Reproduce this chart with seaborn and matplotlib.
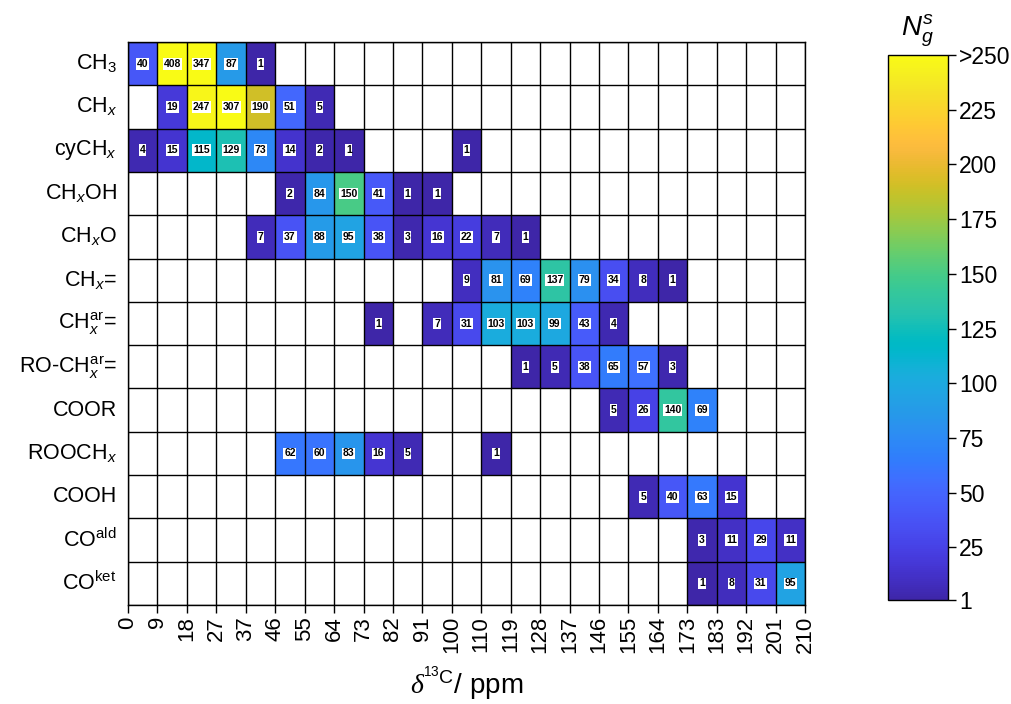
import numpy as np
import pandas as pd
import matplotlib
matplotlib.use("Agg")
import matplotlib.pyplot as plt
from matplotlib.colors import LinearSegmentedColormap
import seaborn as sns

# Group labels (rows) and chemical-shift bin edges (columns)
groups = ["CH$_3$", "CH$_x$", "cyCH$_x$", "CH$_x$OH", "CH$_x$O", "CH$_x$=",
          "CH$_x^{\\mathrm{ar}}$=", "RO-CH$_x^{\\mathrm{ar}}$=", "COOR",
          "ROOCH$_x$", "COOH", "CO$^{\\mathrm{ald}}$", "CO$^{\\mathrm{ket}}$"]
edges = ["0", "9", "18", "27", "37", "46", "55", "64", "73", "82", "91", "100",
         "110", "119", "128", "137", "146", "155", "164", "173", "183", "192",
         "201", "210"]
n_bins = len(edges) - 1

# Non-empty bins per group: {bin index: count}
counts_CH3 = {0: 40, 1: 408, 2: 347, 3: 87, 4: 1}
counts_CHx = {1: 19, 2: 247, 3: 307, 4: 190, 5: 51, 6: 5}
counts_cyCHx = {0: 4, 1: 15, 2: 115, 3: 129, 4: 73, 5: 14, 6: 2, 7: 1, 11: 1}
counts_CHxOH = {5: 2, 6: 84, 7: 150, 8: 41, 9: 1, 10: 1}
counts_CHxO = {4: 7, 5: 37, 6: 88, 7: 95, 8: 38, 9: 3, 10: 16, 11: 22, 12: 7, 13: 1}
counts_CHx_db = {11: 9, 12: 81, 13: 69, 14: 137, 15: 79, 16: 34, 17: 8, 18: 1}
counts_CHar = {8: 1, 10: 7, 11: 31, 12: 103, 13: 103, 14: 99, 15: 43, 16: 4}
counts_ROCHar = {13: 1, 14: 5, 15: 38, 16: 65, 17: 57, 18: 3}
counts_COOR = {16: 5, 17: 26, 18: 140, 19: 69}
counts_ROOCHx = {5: 62, 6: 60, 7: 83, 8: 16, 9: 5, 12: 1}
counts_COOH = {17: 5, 18: 40, 19: 63, 20: 15}
counts_COald = {19: 3, 20: 11, 21: 29, 22: 11}
counts_COket = {19: 1, 20: 8, 21: 31, 22: 95}

all_counts = [counts_CH3, counts_CHx, counts_cyCHx, counts_CHxOH, counts_CHxO,
              counts_CHx_db, counts_CHar, counts_ROCHar, counts_COOR,
              counts_ROOCHx, counts_COOH, counts_COald, counts_COket]

mat = np.full((len(groups), n_bins), np.nan)
for r, d in enumerate(all_counts):
    for c, v in d.items():
        mat[r, c] = v
df = pd.DataFrame(mat, index=groups, columns=range(n_bins))
annot = df.map(lambda v: "" if np.isnan(v) else f"{int(v)}")

# Parula-style colormap
parula = [
    (0.2422, 0.1504, 0.6603), (0.2504, 0.1650, 0.7076), (0.2578, 0.1818, 0.7511),
    (0.2647, 0.1978, 0.7952), (0.2706, 0.2147, 0.8364), (0.2751, 0.2342, 0.8710),
    (0.2783, 0.2559, 0.8991), (0.2803, 0.2782, 0.9221), (0.2813, 0.3006, 0.9414),
    (0.2810, 0.3228, 0.9579), (0.2795, 0.3447, 0.9717), (0.2760, 0.3667, 0.9829),
    (0.2699, 0.3892, 0.9906), (0.2602, 0.4123, 0.9952), (0.2440, 0.4358, 0.9988),
    (0.2206, 0.4603, 0.9973), (0.1963, 0.4847, 0.9892), (0.1834, 0.5074, 0.9798),
    (0.1786, 0.5289, 0.9682), (0.1764, 0.5499, 0.9520), (0.1687, 0.5703, 0.9359),
    (0.1540, 0.5902, 0.9218), (0.1460, 0.6091, 0.9079), (0.1380, 0.6276, 0.8973),
    (0.1248, 0.6459, 0.8883), (0.1113, 0.6635, 0.8763), (0.0952, 0.6798, 0.8598),
    (0.0689, 0.6948, 0.8394), (0.0297, 0.7082, 0.8163), (0.0036, 0.7203, 0.7917),
    (0.0067, 0.7312, 0.7660), (0.0433, 0.7411, 0.7394), (0.0964, 0.7500, 0.7120),
    (0.1408, 0.7584, 0.6842), (0.1717, 0.7670, 0.6554), (0.1938, 0.7758, 0.6251),
    (0.2161, 0.7843, 0.5923), (0.2470, 0.7918, 0.5567), (0.2906, 0.7973, 0.5188),
    (0.3406, 0.8008, 0.4789), (0.3909, 0.8029, 0.4354), (0.4456, 0.8024, 0.3909),
    (0.5044, 0.7993, 0.3480), (0.5616, 0.7942, 0.3045), (0.6174, 0.7876, 0.2612),
    (0.6720, 0.7793, 0.2227), (0.7242, 0.7698, 0.1910), (0.7738, 0.7598, 0.1646),
    (0.8203, 0.7498, 0.1535), (0.8634, 0.7406, 0.1596), (0.9035, 0.7330, 0.1774),
    (0.9393, 0.7288, 0.2100), (0.9728, 0.7298, 0.2394), (0.9956, 0.7434, 0.2371),
    (0.9970, 0.7659, 0.2199), (0.9952, 0.7893, 0.2028), (0.9892, 0.8136, 0.1885),
    (0.9786, 0.8386, 0.1766), (0.9676, 0.8639, 0.1643), (0.9610, 0.8890, 0.1537),
    (0.9597, 0.9135, 0.1423), (0.9628, 0.9373, 0.1265), (0.9691, 0.9606, 0.1064),
    (0.9769, 0.9839, 0.0805)]
cmap = LinearSegmentedColormap.from_list("parula", parula, N=256)
cmap.set_over(parula[-1])

sns.set_theme(style="white")
plt.rcParams["font.family"] = ["Liberation Sans", "DejaVu Sans"]
plt.rcParams["text.color"] = "black"
plt.rcParams["axes.labelcolor"] = "black"
plt.rcParams["xtick.color"] = "black"
plt.rcParams["ytick.color"] = "black"
plt.rcParams["mathtext.fontset"] = "custom"
plt.rcParams["mathtext.rm"] = "Liberation Sans"
plt.rcParams["mathtext.it"] = "Liberation Sans:italic"
plt.rcParams["mathtext.bf"] = "Liberation Serif:italic"

fig = plt.figure(figsize=(10.12, 7.04), dpi=100)
ax = fig.add_axes([0.1265, 0.1406, 0.669, 0.7997])
cax = fig.add_axes([0.8775, 0.1477, 0.0593, 0.7742])

sns.heatmap(df, ax=ax, cmap=cmap, vmin=1, vmax=250, cbar=True, cbar_ax=cax,
            annot=annot, fmt="",
            annot_kws=dict(fontsize=7.5, fontweight="bold", color="black",
                           bbox=dict(facecolor="white", edgecolor="none", pad=0.6)),
            linewidths=0)

# cell grid
ax.hlines(np.arange(len(groups) + 1), 0, n_bins, colors="black", linewidth=1.0)
ax.vlines(np.arange(n_bins + 1), 0, len(groups), colors="black", linewidth=1.0)
for s in ax.spines.values():
    s.set_visible(True)
    s.set_color("black")
    s.set_linewidth(1.0)

ax.set_xticks(np.arange(n_bins + 1))
ax.set_xticklabels(edges, rotation=90, fontsize=16)
ax.set_yticks(np.arange(len(groups)) + 0.5)
ax.set_yticklabels(groups, rotation=0, fontsize=15.5)
ax.tick_params(axis="x", bottom=True, direction="out", length=6, width=1, color="black", pad=2)
ax.tick_params(axis="y", left=False, length=0, pad=8)
ax.set_xlabel(r"$\mathbf{\delta}^{^{13}\mathrm{C}}$/ ppm", fontsize=20, labelpad=8)
ax.set_ylabel("")

# colorbar
cb = ax.collections[0].colorbar
cb.set_ticks([1, 25, 50, 75, 100, 125, 150, 175, 200, 225, 250])
cb.set_ticklabels(["1", "25", "50", "75", "100", "125", "150", "175", "200", "225", ">250"])
cb.ax.tick_params(labelsize=16.5, direction="out", length=6, width=1, color="black",
                  right=True, pad=2)
cb.outline.set_visible(True)
cb.outline.set_edgecolor("black")
cb.outline.set_linewidth(1.0)
cax.set_title(r"$N_g^s$", fontsize=20, pad=14)

fig.savefig("out.png", dpi=100)
